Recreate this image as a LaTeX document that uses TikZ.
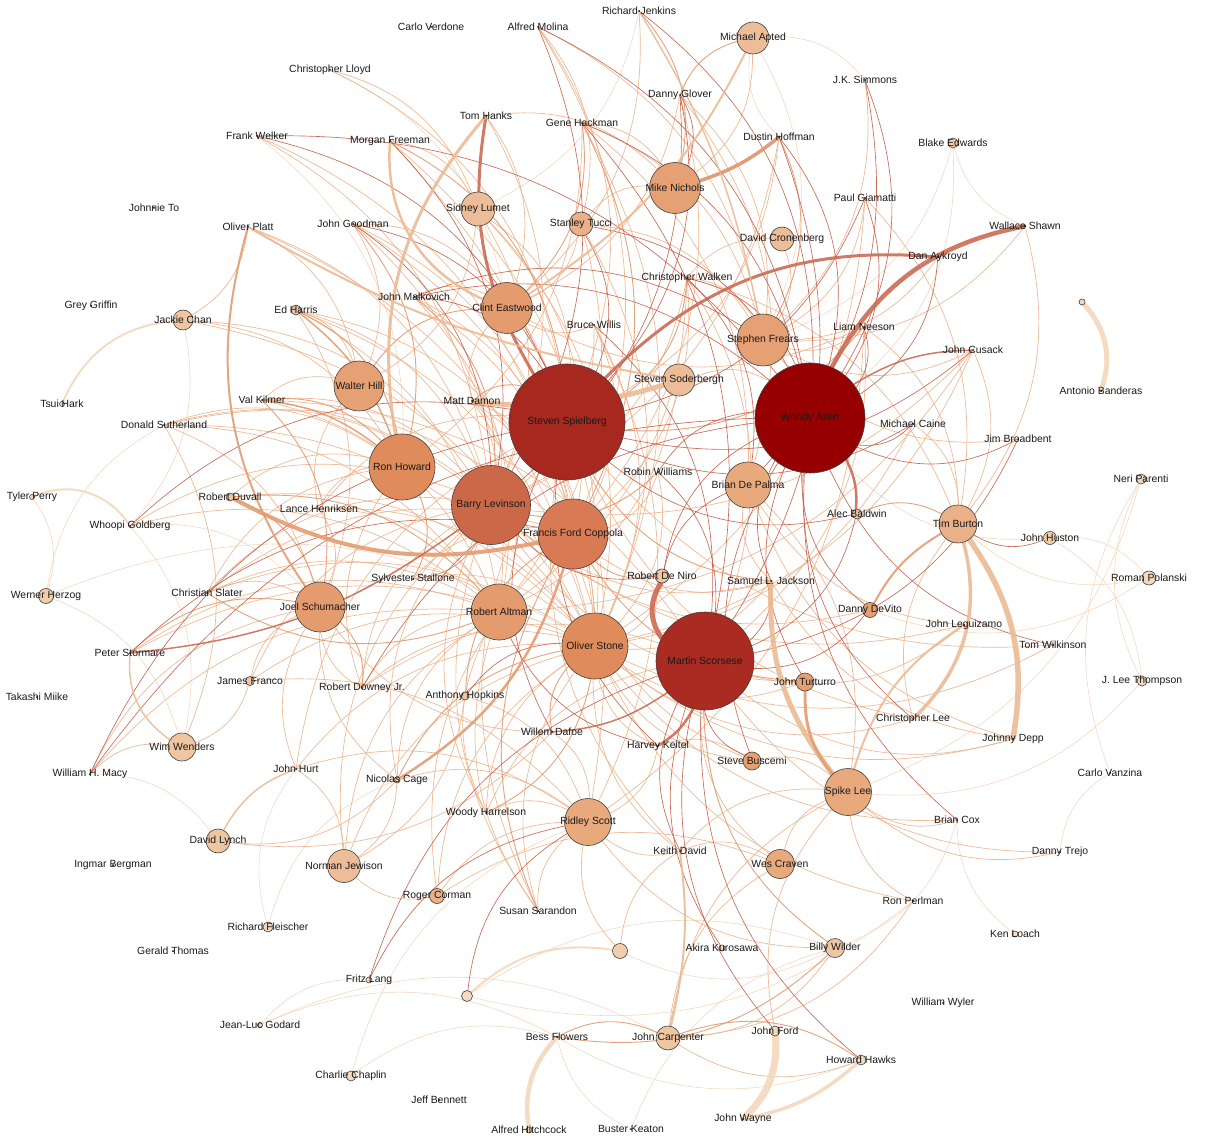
\documentclass[tikz,border=0pt]{standalone}
\usepackage{fontspec}
\setmainfont{Liberation Sans}
\pgfdeclarelayer{bg}
\pgfdeclarelayer{fg}
\pgfsetlayers{bg,main,fg}
\definecolor{cWA}{HTML}{960000}
\definecolor{cSp}{HTML}{A6281E}
\definecolor{cMS}{HTML}{A92B21}
\definecolor{cBL}{HTML}{CB6847}
\definecolor{cFC}{HTML}{D87B54}
\definecolor{cRH}{HTML}{DF8B5C}
\definecolor{cF}{HTML}{E49B6E}
\definecolor{cFb}{HTML}{E5A174}
\definecolor{cG}{HTML}{E8A97D}
\definecolor{cGb}{HTML}{EAB087}
\definecolor{cH}{HTML}{ECBD98}
\definecolor{cI}{HTML}{EFC6A2}
\definecolor{cE}{HTML}{E6A070}
\definecolor{cJ}{HTML}{F1CDAB}
\definecolor{cK}{HTML}{F4D9BE}
\definecolor{eA}{HTML}{F3D5B8}
\definecolor{eB}{HTML}{ECB48C}
\definecolor{eC}{HTML}{E29A6F}
\definecolor{eD}{HTML}{C45A44}
\definecolor{hR}{HTML}{CB6B55}
\definecolor{hO}{HTML}{E39D72}
\definecolor{hL}{HTML}{ECBB93}
\definecolor{hP}{HTML}{F3D8BC}
\definecolor{txt}{HTML}{1A1A1A}
\tikzset{
  dirnode/.style={circle,draw=black!75,line width=0.6pt,inner sep=0pt},
  actnode/.style={circle,fill=black,minimum size=2pt,inner sep=0pt},
  lab/.style={inner sep=0pt,text=txt,font=\fontsize{10.4}{12}\selectfont},
  edgebase/.style={line cap=round,opacity=0.9},
  ea/.style={edgebase,draw=eA,line width=0.6pt,bend left=26},
  eb/.style={edgebase,draw=eB,line width=0.7pt,bend left=26},
  ec/.style={edgebase,draw=eC,line width=0.9pt,bend left=26},
  ed/.style={edgebase,draw=eD,line width=0.65pt,bend left=26},
  hv/.style={edgebase,line width=#1},
}
\newcommand\DirN[5]{\node[dirnode,minimum size=#3pt,fill=#4] (#1) at (#2) {};%
  \begin{pgfonlayer}{fg}\node[lab] (#1-l) at (#1) {#5};\end{pgfonlayer}}
\newcommand\ActN[3]{\node[actnode] (#1) at (#2) {};%
  \begin{pgfonlayer}{fg}\node[lab] (#1-l) at (#1) {#3};\end{pgfonlayer}}
\begin{document}
\begin{tikzpicture}[x=1pt,y=-1pt]
\useasboundingbox (0,0) rectangle (1208,1147);
\begin{pgfonlayer}{bg}
\fill[white] (0,0) rectangle (1208,1147);
\end{pgfonlayer}
% ---------------- directors ----------------
\DirN{spielberg}{567,422}{116}{cSp}{Steven Spielberg}
\DirN{allen}{810,418}{110}{cWA}{Woody Allen}
\DirN{scorsese}{705,661}{98}{cMS}{Martin Scorsese}
\DirN{levinson}{491,505}{79}{cBL}{Barry Levinson}
\DirN{coppola}{573,534}{70}{cFC}{Francis Ford Coppola}
\DirN{howard}{402,467}{66}{cRH}{Ron Howard}
\DirN{stone}{595,646}{66}{cRH}{Oliver Stone}
\DirN{altman}{499,612}{56}{cF}{Robert Altman}
\DirN{schumacher}{320,607}{50}{cF}{Joel Schumacher}
\DirN{hill}{359,386}{50}{cFb}{Walter Hill}
\DirN{eastwood}{507,308}{51}{cF}{Clint Eastwood}
\DirN{nichols}{675,188}{51}{cFb}{Mike Nichols}
\DirN{frears}{763,340}{52}{cFb}{Stephen Frears}
\DirN{depalma}{748,485}{46}{cG}{Brian De Palma}
\DirN{rscott}{588,822}{47}{cG}{Ridley Scott}
\DirN{spikelee}{848,792}{47}{cG}{Spike Lee}
\DirN{burton}{958,524}{38}{cGb}{Tim Burton}
\DirN{craven}{780,864}{29}{cG}{Wes Craven}
\DirN{jewison}{344,866}{33}{cH}{Norman Jewison}
\DirN{lumet}{478,209}{34}{cH}{Sidney Lumet}
\DirN{apted}{753,38}{32}{cH}{Michael Apted}
\DirN{soderbergh}{679,380}{32}{cH}{Steven Soderbergh}
\DirN{wenders}{182,747}{28}{cI}{Wim Wenders}
\DirN{carpenter}{668,1038}{24}{cI}{John Carpenter}
\DirN{lynch}{218,841}{24}{cI}{David Lynch}
\DirN{wilder}{835,948}{19}{cI}{Billy Wilder}
\DirN{tucci}{581,224}{24}{cGb}{Stanley Tucci}
\DirN{cronenberg}{782,239}{24}{cH}{David Cronenberg}
\DirN{chan}{183,320}{20}{cI}{Jackie Chan}
\DirN{herzog}{46,596}{15}{cJ}{Werner Herzog}
\DirN{turturro}{805,682}{18}{cE}{John Turturro}
\DirN{buscemi}{752,761}{18}{cE}{Steve Buscemi}
\DirN{devito}{870,610}{15}{cE}{Danny DeVito}
\DirN{huston}{1050,538}{13}{cJ}{John Huston}
\DirN{polanski}{1149,578}{14}{cK}{Roman Polanski}
\DirN{deniro}{662,576}{14}{cI}{Robert De Niro}
\DirN{baldwin}{857,514}{10}{cI}{Alec Baldwin}
\DirN{corman}{437,896}{15}{cGb}{Roger Corman}
\DirN{hawks}{861,1060}{10}{cK}{Howard Hawks}
\DirN{ford}{775,1031}{10}{cK}{John Ford}
\DirN{parenti}{1141,479}{10}{cK}{Neri Parenti}
\DirN{thompson}{1142,681}{10}{cK}{J. Lee Thompson}
\DirN{edwards}{953,143}{10}{cJ}{Blake Edwards}
\DirN{fleischer}{268,927}{10}{cK}{Richard Fleischer}
\DirN{chaplin}{351,1076}{10}{cK}{Charlie Chaplin}
\DirN{godard}{260,1025}{5}{cK}{Jean-Luc Godard}
\DirN{lang}{369,980}{6}{cK}{Fritz Lang}
\DirN{hitchcock}{529,1130}{6}{cK}{Alfred Hitchcock}
\DirN{loach}{1015,934}{6}{cK}{Ken Loach}
\DirN{kurosawa}{722,948}{6}{cK}{Akira Kurosawa}
\DirN{hopkins}{465,696}{8}{cI}{Anthony Hopkins}
\DirN{duvall}{230,497}{8}{cI}{Robert Duvall}
\DirN{tsui}{62,404}{5}{cK}{Tsui Hark}
\DirN{perry}{32,497}{5}{cK}{Tyler Perry}
\DirN{cage}{397,780}{6}{cI}{Nicolas Cage}
\DirN{franco}{250,681}{9}{cI}{James Franco}
\DirN{edharris}{296,310}{10}{cI}{Ed Harris}
\node[dirnode,minimum size=15pt,fill=cJ] (unk1) at (620,951) {};
\node[dirnode,minimum size=11pt,fill=cK] (unk2) at (467,996) {};
\node[dirnode,minimum size=6pt,fill=cK] (unk3) at (1082,302) {};
% ---------------- actors ----------------
\ActN{verdone}{431,27}{Carlo Verdone}
\ActN{molina}{538,27}{Alfred Molina}
\ActN{jenkins}{639,11}{Richard Jenkins}
\ActN{lloyd}{330,70}{Christopher Lloyd}
\ActN{glover}{680,95}{Danny Glover}
\ActN{simmons}{865,80}{J.K. Simmons}
\ActN{hanks}{486,116}{Tom Hanks}
\ActN{hackman}{582,123}{Gene Hackman}
\ActN{hoffman}{779,137}{Dustin Hoffman}
\ActN{welker}{257,136}{Frank Welker}
\ActN{freeman}{390,141}{Morgan Freeman}
\ActN{giamatti}{865,198}{Paul Giamatti}
\ActN{johnnieto}{154,208}{Johnnie To}
\ActN{platt}{248,227}{Oliver Platt}
\ActN{goodman}{353,224}{John Goodman}
\ActN{shawn}{1025,226}{Wallace Shawn}
\ActN{walken}{687,278}{Christopher Walken}
\ActN{aykroyd}{938,257}{Dan Aykroyd}
\ActN{malkovich}{414,297}{John Malkovich}
\ActN{griffin}{91,306}{Grey Griffin}
\ActN{willis}{594,325}{Bruce Willis}
\ActN{neeson}{864,327}{Liam Neeson}
\ActN{cusack}{973,350}{John Cusack}
\ActN{kilmer}{262,400}{Val Kilmer}
\ActN{damon}{472,401}{Matt Damon}
\ActN{sutherland}{164,425}{Donald Sutherland}
\ActN{caine}{913,424}{Michael Caine}
\ActN{broadbent}{1018,439}{Jim Broadbent}
\ActN{rwilliams}{658,472}{Robin Williams}
\ActN{banderas}{1101,391}{Antonio Banderas}
\ActN{henriksen}{319,509}{Lance Henriksen}
\ActN{goldberg}{130,526}{Whoopi Goldberg}
\ActN{stallone}{413,579}{Sylvester Stallone}
\ActN{slater}{207,593}{Christian Slater}
\ActN{jackson}{771,581}{Samuel L. Jackson}
\ActN{leguizamo}{964,625}{John Leguizamo}
\ActN{wilkinson}{1053,645}{Tom Wilkinson}
\ActN{stormare}{130,653}{Peter Stormare}
\ActN{miike}{37,697}{Takashi Miike}
\ActN{downey}{362,688}{Robert Downey Jr.}
\ActN{dafoe}{552,732}{Willem Dafoe}
\ActN{keitel}{658,746}{Harvey Keitel}
\ActN{clee}{913,719}{Christopher Lee}
\ActN{depp}{1013,739}{Johnny Depp}
\ActN{macy}{90,774}{William H. Macy}
\ActN{hurt}{296,769}{John Hurt}
\ActN{vanzina}{1110,773}{Carlo Vanzina}
\ActN{harrelson}{486,813}{Woody Harrelson}
\ActN{cox}{957,820}{Brian Cox}
\ActN{kdavid}{680,851}{Keith David}
\ActN{trejo}{1060,852}{Danny Trejo}
\ActN{bergman}{113,865}{Ingmar Bergman}
\ActN{perlman}{913,901}{Ron Perlman}
\ActN{sarandon}{538,911}{Susan Sarandon}
\ActN{gthomas}{173,951}{Gerald Thomas}
\ActN{wyler}{943,1003}{William Wyler}
\ActN{flowers}{557,1037}{Bess Flowers}
\ActN{bennett}{439,1100}{Jeff Bennett}
\ActN{keaton}{631,1129}{Buster Keaton}
\ActN{wayne}{743,1119}{John Wayne}
% ---------------- edges ----------------
\begin{pgfonlayer}{bg}
\foreach \a/\b in {jenkins/lumet, lloyd/eastwood, apted/simmons, welker/howard, shawn/edwards,
  edwards/allen, edwards/frears, vanzina/parenti, trejo/vanzina, loach/cox, huston/polanski,
  huston/thompson, polanski/devito, parenti/spikelee, thompson/spikelee, godard/lang,
  godard/carpenter, chaplin/flowers, chaplin/rscott, macy/lynch, keaton/flowers, keaton/wilder,
  fleischer/hurt, fleischer/cage, herzog/sutherland, herzog/wenders, goldberg/wenders,
  perlman/unk2, unk2/wilder, hawks/flowers, apted/frears, hoffman/apted, cox/wilder,
  polanski/burton, perry/herzog, wilder/unk1, godard/flowers, thompson/parenti, huston/allen,
  chan/goldberg, herzog/stone, goldberg/schumacher}
  \draw[ea] (\a) to (\b);
\foreach \a/\b in {hanks/eastwood, hanks/nichols, hanks/levinson, hackman/nichols, hackman/stone,
  hackman/frears, hackman/howard, jenkins/eastwood, molina/tucci, molina/spielberg, molina/frears,
  glover/eastwood, glover/frears, freeman/rscott, freeman/lumet, platt/chan, platt/levinson,
  goodman/eastwood, goodman/coppola, goodman/stone, walken/burton, walken/cronenberg,
  walken/frears, walken/altman, malkovich/eastwood, malkovich/coppola, willis/levinson,
  willis/stone, willis/rscott, neeson/burton, neeson/eastwood, neeson/rscott, cusack/frears,
  cusack/altman, cusack/levinson, kilmer/hill, kilmer/stone, damon/eastwood, damon/coppola,
  sutherland/altman, sutherland/howard, sutherland/schumacher, sutherland/wenders,
  henriksen/hill, henriksen/howard, henriksen/spielberg, stallone/altman, stallone/coppola,
  slater/schumacher, slater/altman, slater/stone, jackson/levinson, leguizamo/depalma,
  downey/altman, downey/stone, downey/levinson, dafoe/lynch, dafoe/schumacher, clee/spielberg,
  depp/stone, depp/jackson, hurt/jewison, hurt/spielberg, harrelson/stone, harrelson/rscott,
  cox/spikelee, kdavid/craven, kdavid/spielberg, perlman/spikelee, perlman/carpenter,
  sarandon/altman, sarandon/stone, sarandon/levinson, wilder/carpenter, franco/wenders,
  franco/schumacher, cage/lynch, cage/rscott, cage/jewison, edharris/hill, edharris/stone,
  edharris/schumacher, corman/coppola, corman/craven, corman/jewison, unk1/rscott, unk1/kdavid,
  carpenter/craven, tucci/nichols, tucci/frears, tucci/eastwood, apted/nichols, cronenberg/frears,
  lumet/stone, lumet/hill, chan/howard, jewison/stone, depalma/spikelee, soderbergh/altman,
  soderbergh/allen, craven/spikelee, buscemi/spikelee, devito/levinson, rwilliams/coppola,
  macy/wenders, sutherland/levinson, sutherland/stone, giamatti/frears, giamatti/burton,
  neeson/frears, cusack/burton, caine/burton, broadbent/frears, jackson/stone, jackson/depalma,
  wilkinson/spielberg, trejo/scorsese, clee/burton, depp/depalma, kdavid/rscott, sarandon/rscott,
  harrelson/altman, hopkins/rscott, hopkins/jewison, franco/rscott, stormare/altman,
  goldberg/altman, slater/howard, kilmer/scorsese, henriksen/schumacher, edharris/altman,
  duvall/howard, duvall/stone, walken/scorsese, willis/eastwood, glover/depalma, hoffman/levinson,
  lumet/levinson, lumet/spielberg, hackman/depalma, chan/levinson, platt/hill, goodman/hill,
  welker/levinson, lloyd/lumet, damon/altman, stallone/stone, downey/scorsese, dafoe/rscott,
  keitel/stone, keitel/rscott, keitel/buscemi, buscemi/coppola, turturro/levinson, deniro/stone,
  craven/scorsese, carpenter/spikelee, ford/spikelee, hawks/carpenter, wilder/rscott,
  slater/coppola, slater/levinson, stormare/stone, goldberg/levinson, sutherland/coppola,
  kilmer/levinson, kilmer/altman, henriksen/altman, henriksen/stone, franco/stone,
  franco/levinson, downey/schumacher, downey/howard, hurt/stone, hurt/schumacher, hurt/rscott,
  macy/altman, macy/schumacher, cage/schumacher, cage/levinson, cage/altman, jewison/levinson,
  jewison/altman, corman/stone, corman/rscott, sarandon/spielberg, harrelson/levinson,
  harrelson/scorsese, kdavid/stone, kdavid/spikelee, perlman/stone, cox/stone, trejo/spikelee,
  clee/stone, leguizamo/scorsese, leguizamo/levinson, wilkinson/stone, depp/scorsese,
  buscemi/stone, turturro/stone, jackson/coppola, rwilliams/stone, neeson/scorsese, cusack/stone,
  caine/stone, shawn/frears, shawn/burton, aykroyd/frears, giamatti/stone, simmons/frears,
  hoffman/spielberg, glover/coppola, molina/coppola, lloyd/spielberg, welker/coppola,
  freeman/stone, platt/stone, goodman/altman, malkovich/stone, malkovich/altman,
  edharris/coppola, edharris/levinson, willis/coppola, damon/levinson, damon/stone,
  walken/coppola, walken/levinson, tucci/altman, tucci/stone, lumet/coppola, chan/stone}
  \draw[eb] (\a) to (\b);
\foreach \a/\b in {hackman/coppola, hoffman/frears, freeman/spielberg, walken/spielberg,
  damon/spielberg, neeson/spielberg, kilmer/howard, kilmer/schumacher, rwilliams/levinson,
  dafoe/stone, edharris/howard, deniro/coppola, flowers/carpenter, wilder/flowers,
  wilder/scorsese, baldwin/burton, cage/stone, carpenter/hawks, stormare/schumacher,
  turturro/coppola, hopkins/coppola, duvall/schumacher, duvall/altman, malkovich/levinson,
  goodman/howard, hill/eastwood, hackman/eastwood, jenkins/nichols, glover/apted,
  sarandon/coppola, jackson/spielberg, altman/slater, schumacher/downey, howard/stallone,
  stone/harrelson, levinson/stallone}
  \draw[ec] (\a) to (\b);
\foreach \a/\b in {jenkins/allen, molina/levinson, glover/nichols, glover/levinson,
  glover/spielberg, simmons/depalma, hackman/allen, hackman/scorsese, hoffman/scorsese,
  welker/spielberg, freeman/levinson, goodman/levinson, goodman/spielberg, walken/allen,
  aykroyd/allen, malkovich/spielberg, malkovich/frears, malkovich/allen, neeson/allen,
  caine/allen, caine/spielberg, broadbent/allen, broadbent/scorsese, rwilliams/allen,
  goldberg/spielberg, jackson/scorsese, jackson/allen, wilkinson/allen, macy/spielberg,
  cox/allen, kdavid/scorsese, kurosawa/scorsese, hawks/scorsese, ford/scorsese, lang/rscott,
  unk2/rscott, huston/burton, baldwin/scorsese, baldwin/spielberg, devito/allen, turturro/allen,
  buscemi/scorsese, buscemi/allen, deniro/allen, deniro/levinson, deniro/depalma,
  tucci/spielberg, tucci/allen, hopkins/stone, downey/allen, giamatti/allen, giamatti/spielberg,
  willis/scorsese, keitel/altman, keitel/spielberg, clee/allen, lang/scorsese, cusack/spielberg,
  devito/scorsese, simmons/allen, walken/depalma, rwilliams/scorsese, dafoe/spielberg,
  molina/allen, hoffman/allen, welker/allen, stormare/coppola, macy/allen}
  \draw[ed] (\a) to (\b);
% heavy edges
\draw[hv=3pt,draw=hR,bend right=20] (hanks) to (spielberg);
\draw[hv=3pt,draw=hL,bend right=25] (hanks) to (howard);
\draw[hv=2.5pt,draw=hL,bend right=35] (freeman) to (eastwood);
\draw[hv=2pt,draw=hO,bend right=25] (platt) to (schumacher);
\draw[hv=2pt,draw=hL,bend right=10] (platt) to (soderbergh);
\draw[hv=4pt,draw=hO,bend right=20] (duvall) to (coppola);
\draw[hv=5pt,draw=hL,bend right=12] (damon) to (soderbergh);
\draw[hv=4.5pt,draw=hR,bend right=25] (shawn) to (allen);
\draw[hv=3pt,draw=hR,bend left=25] (spielberg) to (aykroyd);
\draw[hv=3.5pt,draw=hO!80!hR,bend right=10] (nichols) to (hoffman);
\draw[hv=2pt,draw=hL,bend left=15] (apted) to (eastwood);
\draw[hv=1.5pt,draw=hL,bend left=10] (jenkins) to (frears);
\draw[hv=5pt,draw=hR,bend right=35] (deniro) to (scorsese);
\draw[hv=2.5pt,draw=hR,bend left=15] (scorsese) to (keitel);
\draw[hv=5pt,draw=hL,bend left=20] (spikelee) to (jackson);
\draw[hv=3pt,draw=hO,bend right=20] (turturro) to (spikelee);
\draw[hv=5.5pt,draw=hL,bend left=22] (burton) to (depp);
\draw[hv=3.5pt,draw=hL,bend left=30] (burton) to (clee);
\draw[hv=5pt,draw=hP,bend left=30] (unk3) to (banderas);
\draw[hv=7pt,draw=hP,bend left=25] (ford) to (wayne);
\draw[hv=3.5pt,draw=hP,bend left=15] (hawks) to (wayne);
\draw[hv=4.5pt,draw=hP,bend right=25] (flowers) to (hitchcock);
\draw[hv=2pt,draw=hP,bend left=30] (tsui) to (chan);
\draw[hv=2pt,draw=hP,bend left=40] (perry) to (goldberg);
\draw[hv=1.5pt,draw=hR,bend right=15] (stormare) to (levinson);
\draw[hv=1.5pt,draw=hL,bend right=30] (stormare) to (wenders);
\draw[hv=2pt,draw=hL,bend left=10] (kdavid) to (carpenter);
\draw[hv=2pt,draw=hP,bend left=25] (unk2) to (unk1);
\draw[hv=1.5pt,draw=hL,bend left=20] (lynch) to (hurt);
\draw[hv=2.5pt,draw=hO,bend right=20] (cage) to (coppola);
\draw[hv=2.5pt,draw=hR,bend left=15] (allen) to (baldwin);
\draw[hv=2pt,draw=hO,bend left=15] (devito) to (burton);
\draw[hv=2pt,draw=hL,bend right=20] (leguizamo) to (spikelee);
\draw[hv=1.5pt,draw=hR,bend right=15] (dafoe) to (scorsese);
\draw[hv=1.5pt,draw=hR,bend right=15] (cusack) to (allen);
\draw[hv=1.5pt,draw=hO,bend left=15] (edharris) to (howard);
\draw[hv=1.5pt,draw=hO,bend left=15] (kilmer) to (howard);
\end{pgfonlayer}
\end{tikzpicture}
\end{document}
